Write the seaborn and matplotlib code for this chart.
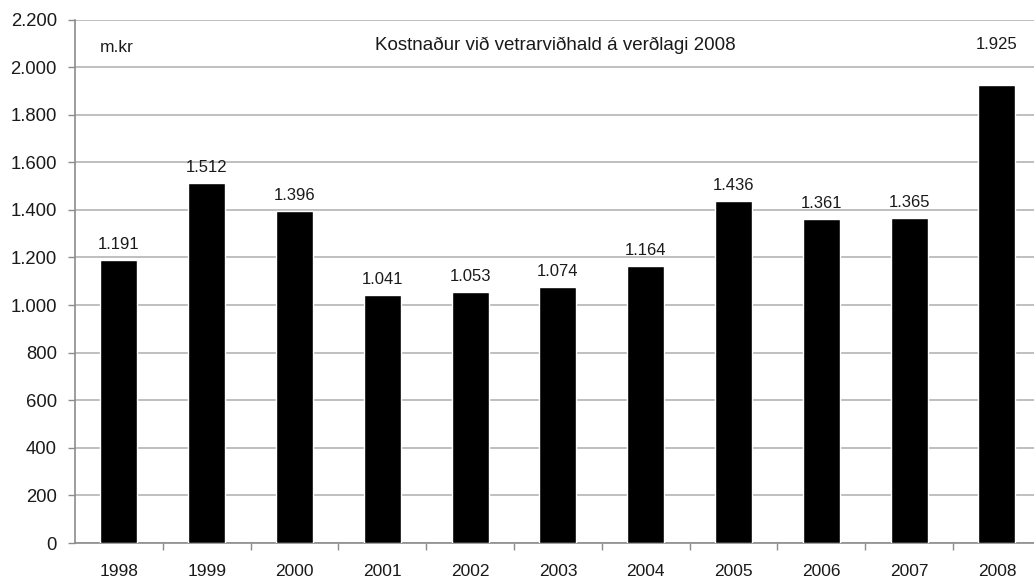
import matplotlib
matplotlib.use("Agg")
import matplotlib.pyplot as plt
import seaborn as sns
import pandas as pd
import numpy as np
from matplotlib.ticker import FuncFormatter, FixedLocator

years = ["1998", "1999", "2000", "2001", "2002", "2003", "2004", "2005", "2006", "2007", "2008"]
values = [1191, 1512, 1396, 1041, 1053, 1074, 1164, 1436, 1361, 1365, 1925]
title_text = "Kostnaður við vetrarviðhald á verðlagi 2008"
unit_text = "m.kr"

sns.set_theme(style="white")
plt.rcParams['font.family'] = ['Liberation Sans', 'DejaVu Sans']

df = pd.DataFrame({"year": years, "value": values})

fig = plt.figure(figsize=(10.34, 5.82), dpi=100)
ax = fig.add_axes([75/1034, 39/582, (1034-75)/1034, (543-19.5)/582])

sns.barplot(data=df, x="year", y="value", color="black", width=0.42,
            saturation=1, ax=ax, zorder=3)

def dotfmt(v):
    return f"{int(round(v)):,}".replace(",", ".")

txtcol = "#1a1a1a"
bars = ax.containers[0]
for i, (rect, v) in enumerate(zip(bars, values)):
    cx = rect.get_x() + rect.get_width() / 2
    off = 8 if i < len(values) - 1 else 33
    ax.annotate(dotfmt(v), (cx, rect.get_height()), xytext=(0, off),
                textcoords="offset pixels", ha="center", va="bottom",
                fontsize=12, color=txtcol)

ax.set_ylim(0, 2200)
ax.set_yticks(np.arange(0, 2201, 200))
ax.yaxis.set_major_formatter(FuncFormatter(lambda v, p: dotfmt(v)))
ax.set_xlim(-0.5, -0.5 + (1034-75)/87.8)
ax.set_xlabel("")
ax.set_ylabel("")

ax.grid(axis="y", color="#b4b4b4", linewidth=1.2, zorder=0)
ax.grid(axis="x", visible=False)
for s in ["top", "right"]:
    ax.spines[s].set_visible(False)
for s in ["left", "bottom"]:
    ax.spines[s].set_color("#8c8c8c")
    ax.spines[s].set_linewidth(1.2)

ax.tick_params(axis="y", which="major", length=5, color="#8c8c8c", width=1,
               labelsize=13.3, labelcolor=txtcol, pad=8, left=True)
ax.tick_params(axis="x", which="major", length=0, labelsize=12.5,
               labelcolor=txtcol, pad=15)
ax.xaxis.set_minor_locator(FixedLocator(np.arange(0.5, 10.5, 1)))
ax.tick_params(axis="x", which="minor", length=5, color="#8c8c8c", width=1,
               bottom=True)

title_y = (543 - 45) / (543 - 19.5) * 2200
unit_y = (543 - 48) / (543 - 19.5) * 2200
ax.text((555-75)/(1034-75), title_y, title_text, transform=ax.get_yaxis_transform(),
        ha="center", va="center", fontsize=13.5, color=txtcol)
ax.text((100-75)/(1034-75), unit_y, unit_text, transform=ax.get_yaxis_transform(),
        ha="left", va="center", fontsize=12.5, color=txtcol)

fig.savefig("out.png", dpi=100, facecolor="white")
